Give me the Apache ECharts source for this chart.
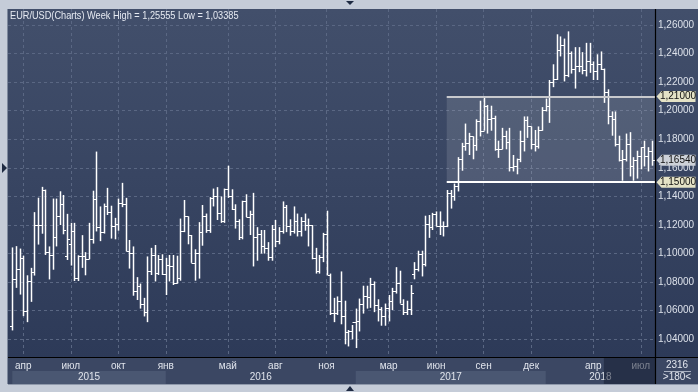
<!DOCTYPE html>
<html><head><meta charset="utf-8">
<script src="https://cdn.jsdelivr.net/npm/echarts@6.0.0/dist/echarts.min.js"></script>
<style>html,body{margin:0;padding:0;background:#c5ccd8;overflow:hidden}#c{width:698px;height:392px}</style>
</head><body><div id="c"></div>
<script>
// Weekly EUR/USD bars, first week starting 2015-03-16, x = week index
const open = [
1.0495,1.0822,1.0889,1.0970,1.0600,1.0807,1.0873,1.1199,1.1199,1.1448,
1.1014,1.0987,1.1114,1.1265,1.1350,1.0980,1.1070,1.1160,1.0830,1.0983,
1.0980,1.0965,1.1105,1.1385,1.1185,1.1150,1.1335,1.1290,1.1195,1.1210,
1.1355,1.1345,1.1015,1.1005,1.0740,1.0770,1.0645,1.0590,1.0880,1.0990,
1.0865,1.0965,
1.0860,1.0920,1.0915,1.0795,1.0830,1.1155,1.1260,1.1130,1.0935,1.1005,
1.1150,1.1265,1.1165,1.1390,1.1400,1.1285,1.1225,1.1455,1.1405,1.1310,
1.1225,1.1115,1.1365,1.1255,1.1275,1.1115,1.1135,1.1050,1.1040,1.0975,
1.1175,1.1085,1.1160,1.1325,1.1195,1.1155,1.1230,1.1155,1.1225,1.1200,
1.1200,1.0970,1.0880,1.0975,1.1140,1.0850,1.0585,1.0585,1.0665,1.0560,
1.0450,1.0455,
1.0520,1.0530,1.0645,1.0705,1.0695,1.0785,1.0640,1.0615,1.0560,1.0620,
1.0670,1.0735,1.0795,1.0650,1.0590,1.0615,1.0860,1.0895,1.0995,1.0930,
1.1205,1.1185,1.1280,1.1195,1.1195,1.1195,1.1425,1.1400,1.1470,1.1665,
1.1750,1.1775,1.1820,1.1760,1.1925,1.1860,1.2035,1.1940,1.1950,1.1730,
1.1730,1.1820,1.1780,1.1605,1.1610,1.1665,1.1790,1.1935,1.1890,1.1770,
1.1750,1.1865,
1.2005,1.2030,1.2200,1.2220,1.2425,1.2460,1.2250,1.2405,1.2295,1.2310,
1.2310,1.2285,1.2350,1.2325,1.2280,1.2330,1.2290,1.2130,1.1960,1.1940,
1.1770,1.1655,1.1660,1.1770,1.1610,1.1655,1.1685,1.1745,1.1685,1.1720];
const high = [
1.1043,1.1052,1.1035,1.0985,1.0848,1.0900,1.1290,1.1391,1.1467,1.1448,
1.1050,1.1385,1.1385,1.1436,1.1410,1.1278,1.1215,1.1215,1.0988,1.1129,
1.1010,1.1215,1.1440,1.1714,1.1330,1.1350,1.1460,1.1335,1.1250,1.1385,
1.1495,1.1390,1.1095,1.1050,1.0835,1.0790,1.0690,1.0980,1.1040,1.1060,
1.0990,1.0995,
1.0970,1.0990,1.0990,1.0985,1.1245,1.1375,1.1260,1.1130,1.1030,1.1220,
1.1340,1.1280,1.1395,1.1455,1.1465,1.1400,1.1455,1.1615,1.1450,1.1345,
1.1240,1.1370,1.1415,1.1300,1.1425,1.1185,1.1165,1.1165,1.1080,1.1200,
1.1235,1.1185,1.1365,1.1340,1.1240,1.1330,1.1280,1.1255,1.1280,1.1245,
1.1200,1.1040,1.0990,1.1145,1.1300,1.0860,1.0690,1.0700,1.0875,1.0670,
1.0465,1.0500,
1.0615,1.0685,1.0775,1.0775,1.0830,1.0805,1.0680,1.0625,1.0650,1.0710,
1.0760,1.0905,1.0880,1.0680,1.0670,1.0780,1.0940,1.1020,1.1020,1.1265,
1.1270,1.1285,1.1295,1.1295,1.1225,1.1445,1.1445,1.1490,1.1675,1.1775,
1.1910,1.1845,1.1820,1.1940,1.2070,1.2090,1.2040,1.2035,1.1965,1.1790,
1.1880,1.1860,1.1880,1.1690,1.1665,1.1860,1.1960,1.1960,1.1890,1.1865,
1.1890,1.2025,
1.2085,1.2215,1.2325,1.2535,1.2520,1.2505,1.25555,1.2415,1.2445,1.2445,
1.2410,1.2475,1.2475,1.2345,1.2395,1.2415,1.2295,1.2150,1.1995,1.1995,
1.1825,1.1725,1.1840,1.1850,1.1675,1.1720,1.1745,1.1790,1.1745,1.1790];
const low = [
1.0462,1.0760,1.0713,1.0562,1.0520,1.0662,1.0846,1.1063,1.1139,1.0990,
1.0819,1.0887,1.1050,1.1200,1.1135,1.0955,1.0916,1.0808,1.0808,1.0900,
1.0848,1.0960,1.1070,1.1155,1.1087,1.1140,1.1270,1.1105,1.1100,1.1160,
1.1325,1.1015,1.0895,1.0705,1.0675,1.0615,1.0560,1.0520,1.0850,1.0805,
1.0850,1.0850,
1.0710,1.0805,1.0780,1.0790,1.0810,1.1150,1.1065,1.0935,1.0810,1.0825,
1.1055,1.1145,1.1145,1.1330,1.1235,1.1215,1.1215,1.1390,1.1305,1.1175,
1.1095,1.1100,1.1255,1.1130,1.0910,1.0950,1.1000,1.1000,1.0950,1.0950,
1.1045,1.1065,1.1140,1.1150,1.1125,1.1140,1.1120,1.1120,1.1160,1.1050,
1.0960,1.0860,1.0860,1.0940,1.0850,1.0570,1.0520,1.0570,1.0505,1.0365,
1.0350,1.0400,
1.03385,1.0455,1.0580,1.0615,1.0620,1.0590,1.0525,1.0495,1.0495,1.0525,
1.0605,1.0720,1.0650,1.0570,1.0570,1.0570,1.0820,1.0875,1.0840,1.0910,
1.1110,1.1165,1.1190,1.1130,1.1120,1.1185,1.1315,1.1370,1.1435,1.1580,
1.1720,1.1690,1.1660,1.1720,1.1820,1.1860,1.1840,1.1860,1.1720,1.1670,
1.1730,1.1730,1.1575,1.1575,1.1555,1.1640,1.1715,1.1810,1.1730,1.1715,
1.1735,1.1860,
1.1995,1.1915,1.2165,1.2215,1.2380,1.2205,1.2235,1.2260,1.2155,1.2270,
1.2255,1.2240,1.2265,1.2215,1.2215,1.2285,1.2055,1.1905,1.1825,1.1750,
1.1645,1.1510,1.1645,1.1540,1.1510,1.1525,1.1590,1.1610,1.1575,1.1615];
const close = [
1.0822,1.0889,1.0970,1.0600,1.0807,1.0873,1.1199,1.1199,1.1448,1.1014,
1.0987,1.1114,1.1265,1.1350,1.1165,1.1105,1.1160,1.0830,1.0983,1.0980,
1.0965,1.1105,1.1385,1.1185,1.1150,1.1335,1.1290,1.1195,1.1210,1.1355,
1.1345,1.1015,1.1005,1.0740,1.0770,1.0645,1.0590,1.0880,1.0990,1.0865,
1.0965,1.0860,
1.0920,1.0915,1.0795,1.0830,1.1155,1.1260,1.1130,1.0935,1.1005,1.1150,
1.1265,1.1165,1.1390,1.1400,1.1285,1.1225,1.1455,1.1405,1.1310,1.1225,
1.1115,1.1365,1.1255,1.1275,1.1115,1.1135,1.1050,1.1040,1.0975,1.1175,
1.1085,1.1160,1.1325,1.1195,1.1155,1.1230,1.1155,1.1225,1.1200,1.1200,
1.0970,1.0880,1.0975,1.1140,1.0850,1.0585,1.0585,1.0665,1.0560,1.0450,
1.0455,1.0520,
1.0530,1.0645,1.0705,1.0695,1.0785,1.0640,1.0615,1.0560,1.0620,1.0670,
1.0735,1.0795,1.0650,1.0590,1.0615,1.0725,1.0895,1.0995,1.0930,1.1205,
1.1185,1.1280,1.1195,1.1195,1.1195,1.1425,1.1400,1.1470,1.1665,1.1750,
1.1775,1.1820,1.1760,1.1925,1.1860,1.2035,1.1940,1.1950,1.1730,1.1730,
1.1820,1.1780,1.1605,1.1610,1.1665,1.1790,1.1935,1.1890,1.1770,1.1750,
1.1865,1.2005,
1.2030,1.2200,1.2220,1.2425,1.2460,1.2250,1.2405,1.2295,1.2310,1.2310,
1.2285,1.2350,1.2325,1.2280,1.2330,1.2290,1.2130,1.1960,1.1940,1.1770,
1.1655,1.1660,1.1770,1.1610,1.1655,1.1685,1.1745,1.1685,1.1720,1.1654];

const monthTickIdx = [3,16,29,42,59,72,86,103,116,129,142,159,172];
const monthLabels  = ['апр','июл','окт','янв','май','авг','ноя','мар','июн','сен','дек','апр','июл'];
const yearStartIdx = [0,42,94,146];
const yearLabels   = ['2015','2016','2017','2018'];
const yearShaded   = [true,false,true,false];
const priceTicks   = [1.04,1.06,1.08,1.10,1.12,1.14,1.16,1.18,1.20,1.22,1.24,1.26];
const levelHigh = 1.21, levelLow = 1.15, levelStartIdx = 118.9;
const lastPrice = close[close.length - 1];
const viewStartIdx = 161.9;
const X_MIN = -1.18, X_MAX = 175.9, Y_MIN = 1.0276, Y_MAX = 1.2712;

const FONT = "'Liberation Sans',Arial,sans-serif";
const fmt = v => v.toFixed(5).replace('.', ',');

const chart = echarts.init(document.getElementById('c'), null, {renderer: 'canvas'});
const bars = open.map((o, i) => [i, o, high[i], low[i], close[i]]);
const yearBands = yearStartIdx.map((s, i) => [s, i + 1 < yearStartIdx.length ? yearStartIdx[i + 1] : X_MAX, i]);
const titleText = 'EUR/USD(Charts) Week High = ' + fmt(Math.max(...high)) + ' Low = ' + fmt(Math.min(...low));

const tagPath = 'path://M0,5.5 L5,0 L39,0 L39,11 L5,11 Z';
function tag(value, color) {
  return {
    coord: [X_MAX, value], value: fmt(value),
    symbol: tagPath, symbolSize: [39, 11], symbolOffset: [21, 0], symbolKeepAspect: false,
    itemStyle: {color: color},
    label: {show: true, position: 'inside', offset: [2, 0], formatter: fmt(value), color: '#111', fontSize: 10, fontFamily: FONT}
  };
}

chart.setOption({
  animation: false,
  graphic: [
    {type: 'rect', z: -100, shape: {x: 8, y: 9, width: 690, height: 375},
     style: {fill: new echarts.graphic.LinearGradient(0, 0, 0, 1, [{offset: 0, color: '#424f6b'}, {offset: 0.93, color: '#2d3a58'}, {offset: 1, color: '#2d3a58'}])}},
    {type: 'rect', z: -99, shape: {x: 656, y: 358, width: 42, height: 26}, style: {fill: '#3b4763'}},
    {type: 'text', z: 50, x: 10, y: 10, scaleX: 0.835, originX: 0,
     style: {text: titleText, x: 0, y: 0, align: 'left', verticalAlign: 'top', fill: '#e6eaf2', font: '11px ' + FONT}},
    {type: 'line', z: 100, shape: {x1: 7.5, y1: 9, x2: 7.5, y2: 384}, style: {stroke: '#7f8a9e', lineWidth: 1}},
    {type: 'line', z: 100, shape: {x1: 8, y1: 384.5, x2: 698, y2: 384.5}, style: {stroke: '#8f99ab', lineWidth: 1}},
    {type: 'line', z: 100, shape: {x1: 655.5, y1: 9, x2: 655.5, y2: 384}, style: {stroke: '#000', lineWidth: 1.2}},
    {type: 'line', z: 100, shape: {x1: 8, y1: 357.5, x2: 698, y2: 357.5}, style: {stroke: '#000', lineWidth: 1.2}},
    {type: 'line', z: 100, shape: {x1: 664, y1: 371.5, x2: 691, y2: 371.5}, style: {stroke: '#aab2c2', lineWidth: 1}},
    {type: 'text', z: 100, style: {text: '2316', x: 677, y: 365, align: 'center', verticalAlign: 'middle', fill: '#e2e6ee', font: '10px ' + FONT}},
    {type: 'text', z: 100, style: {text: '>180<', x: 677, y: 377.5, align: 'center', verticalAlign: 'middle', fill: '#e2e6ee', font: '10px ' + FONT}},
    {type: 'polygon', z: 100, shape: {points: [[2, 163], [7, 168], [2, 173]]}, style: {fill: '#1e2a42'}},
    {type: 'polygon', z: 100, shape: {points: [[346, 1], [354, 1], [350, 5]]}, style: {fill: '#1e2a42'}},
    {type: 'polygon', z: 100, shape: {points: [[346, 391], [354, 391], [350, 386]]}, style: {fill: '#1e2a42'}}
  ],
  grid: [
    {left: 8, top: 9, width: 647, height: 348},
    {left: 8, top: 358, width: 647, height: 26}
  ],
  xAxis: [
    {type: 'value', gridIndex: 0, min: X_MIN, max: X_MAX,
     axisLine: {show: false}, axisTick: {show: false, customValues: monthTickIdx},
     splitLine: {show: true, lineStyle: {color: '#5a6783', type: [3, 3], width: 1}},
     axisLabel: {customValues: monthTickIdx, margin: 4, color: '#e0e4ec', fontSize: 10, fontFamily: FONT,
       formatter: v => monthLabels[monthTickIdx.indexOf(v)] || ''}},
    {type: 'value', gridIndex: 1, min: X_MIN, max: X_MAX, show: false}
  ],
  yAxis: [
    {type: 'value', gridIndex: 0, position: 'right', min: Y_MIN, max: Y_MAX,
     axisLine: {show: false}, axisTick: {show: false, customValues: priceTicks},
     splitLine: {show: true, lineStyle: {color: '#5a6783', type: [3, 3], width: 1}},
     axisLabel: {customValues: priceTicks, margin: 3, color: '#dce1ea', fontSize: 10, fontFamily: FONT, formatter: v => fmt(v)}},
    {type: 'value', gridIndex: 1, min: 0, max: 1, show: false}
  ],
  series: [
    {
      type: 'custom', name: 'years', xAxisIndex: 1, yAxisIndex: 1, z: -1, silent: true,
      data: yearBands,
      renderItem(params, api) {
        const cs = params.coordSys;
        const x0 = api.coord([api.value(0), 0])[0];
        const x1 = api.coord([Math.min(api.value(1), X_MAX), 0])[0];
        const idx = api.value(2);
        const top = cs.y + 13, h = cs.y + cs.height - top;
        const children = [];
        if (params.dataIndex === 0) children.push({type: 'rect', shape: {x: cs.x, y: cs.y, width: cs.width, height: cs.height}, style: {fill: '#3b4763'}});
        if (yearShaded[idx]) children.push({type: 'rect', shape: {x: x0, y: top, width: x1 - x0, height: h}, style: {fill: '#4a5772'}});
        children.push({type: 'text', style: {text: yearLabels[idx], x: (x0 + x1) / 2, y: top + h / 2, align: 'center', verticalAlign: 'middle', fill: '#e0e4ec', font: '10px ' + FONT}});
        return {type: 'group', children};
      }
    },
    {
      type: 'custom', name: 'view', xAxisIndex: 1, yAxisIndex: 1, z: 10, silent: true,
      data: [[viewStartIdx, X_MAX]],
      renderItem(params, api) {
        const cs = params.coordSys;
        const x0 = api.coord([api.value(0), 0])[0];
        const x1 = api.coord([api.value(1), 0])[0];
        return {type: 'rect', shape: {x: x0, y: cs.y, width: x1 - x0, height: cs.height}, style: {fill: 'rgba(18,26,46,0.5)'}};
      }
    },
    {
      type: 'line', name: 'levels', xAxisIndex: 0, yAxisIndex: 0, data: [], silent: true,
      markArea: {silent: true, itemStyle: {color: 'rgba(255,255,255,0.12)'},
        data: [[{coord: [levelStartIdx, levelHigh]}, {coord: [X_MAX, levelLow]}]]},
      markLine: {silent: true, symbol: 'none', label: {show: false},
        data: [
          [{coord: [levelStartIdx, levelHigh], lineStyle: {color: '#c8c9cd', width: 2, type: 'solid'}}, {coord: [X_MAX, levelHigh]}],
          [{coord: [levelStartIdx, levelLow], lineStyle: {color: '#ffffff', width: 2, type: 'solid'}}, {coord: [X_MAX, levelLow]}]
        ]},
      markPoint: {silent: true, data: [tag(levelHigh, '#e4e2c6'), tag(lastPrice, '#cdd1d8'), tag(levelLow, '#e4e2c6')]}
    },
    {
      type: 'custom', name: 'EUR/USD', xAxisIndex: 0, yAxisIndex: 0, z: 3, silent: true,
      data: bars,
      renderItem(params, api) {
        const x = api.value(0);
        const o = api.coord([x, api.value(1)]);
        const h = api.coord([x, api.value(2)]);
        const l = api.coord([x, api.value(3)]);
        const c = api.coord([x, api.value(4)]);
        const px = Math.round(o[0]) + 0.5;
        const st = {stroke: '#ffffff', lineWidth: 1.5};
        return {type: 'group', children: [
          {type: 'line', shape: {x1: px, y1: h[1], x2: px, y2: l[1]}, style: st},
          {type: 'line', shape: {x1: px - 2.5, y1: Math.round(o[1]) + 0.5, x2: px, y2: Math.round(o[1]) + 0.5}, style: {stroke: '#fff', lineWidth: 1}},
          {type: 'line', shape: {x1: px, y1: Math.round(c[1]) + 0.5, x2: px + 2.5, y2: Math.round(c[1]) + 0.5}, style: {stroke: '#fff', lineWidth: 1}}
        ]};
      }
    }
  ]
});
</script></body></html>
